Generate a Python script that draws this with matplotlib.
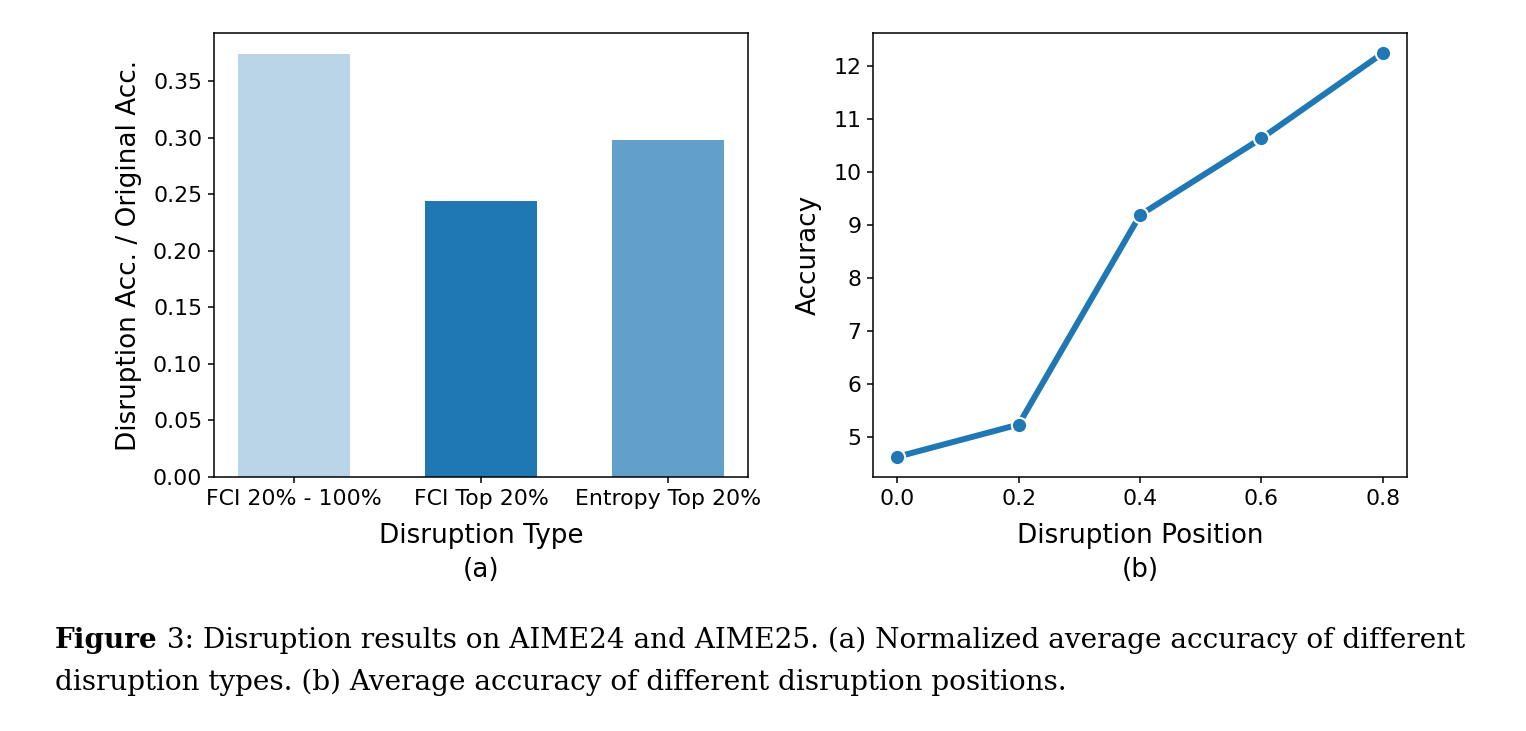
import matplotlib.pyplot as plt

# data
types = ['FCI 20% - 100%', 'FCI Top 20%', 'Entropy Top 20%']
ratio = [0.374, 0.244, 0.298]
alphas = [0.3, 1.0, 0.7]

positions = [0.0, 0.2, 0.4, 0.6, 0.8]
accuracy = [4.62, 5.23, 9.19, 10.64, 12.25]

plt.rcParams['font.family'] = ['DejaVu Sans']
plt.rcParams['axes.linewidth'] = 1.1
W, H = 1526, 731
fig = plt.figure(figsize=(W / 100, H / 100), dpi=100)

tick_fs = 15.8
lab_fs = 18.9

# (a) bar chart
ax1 = fig.add_axes([214 / W, 1 - 477 / H, (748 - 214) / W, (477 - 33) / H])
for i, (v, a) in enumerate(zip(ratio, alphas)):
    ax1.bar(i, v, width=0.6, color='tab:blue', alpha=a)
ax1.set_xticks(range(len(types)))
ax1.set_xticklabels(types)
ax1.set_xlabel('Disruption Type\n(a)', fontsize=lab_fs, linespacing=1.4, labelpad=10)
ax1.set_ylabel('Disruption Acc. / Original Acc.', fontsize=lab_fs, labelpad=8)

# (b) line chart
ax2 = fig.add_axes([873 / W, 1 - 477 / H, (1407 - 873) / W, (477 - 33) / H])
ax2.plot(positions, accuracy, color='tab:blue', linewidth=4.3, marker='o',
         markersize=11, markeredgecolor='white', markeredgewidth=1.5)
ax2.set_xticks(positions)
ax2.set_xlabel('Disruption Position\n(b)', fontsize=lab_fs, linespacing=1.4, labelpad=10)
ax2.set_ylabel('Accuracy', fontsize=lab_fs, labelpad=8)

for ax in (ax1, ax2):
    ax.tick_params(labelsize=tick_fs, length=4.5, width=1.1, pad=4)

# caption
cap_fs = 20.1
y1 = 1 - 640 / H
y2 = 1 - 682 / H
t = fig.text(55 / W, y1, 'Figure', fontsize=cap_fs, fontweight='bold',
             family='DejaVu Serif', va='center')
fig.canvas.draw()
bb = t.get_window_extent()
fig.text(bb.x1 / W, y1, ' 3: Disruption results on AIME24 and AIME25. (a) Normalized average accuracy of different',
         fontsize=cap_fs, family='DejaVu Serif', va='center')
fig.text(55 / W, y2, 'disruption types. (b) Average accuracy of different disruption positions.',
         fontsize=cap_fs, family='DejaVu Serif', va='center')

fig.savefig('out.png', dpi=100)
